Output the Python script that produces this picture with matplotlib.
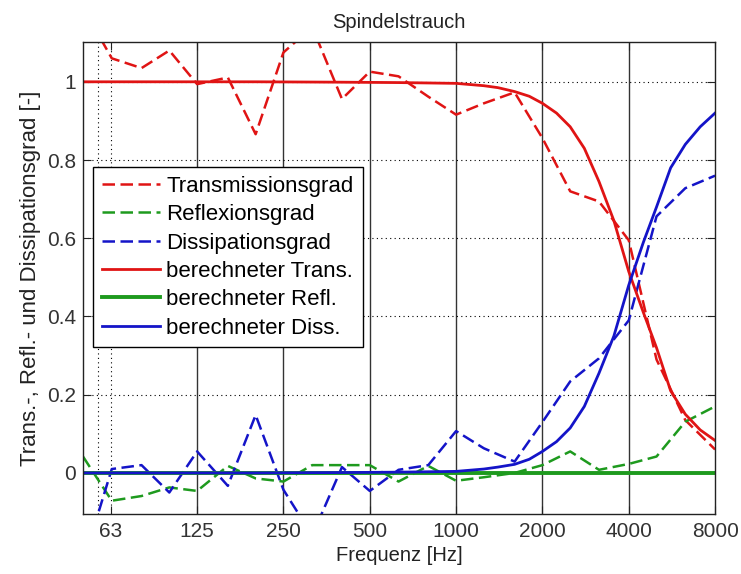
import matplotlib
matplotlib.use("Agg")
import matplotlib.pyplot as plt

# measured values at third-octave band centres
freq_meas = [50, 63, 80, 100, 125, 160, 200, 250, 315, 400, 500, 630, 800,
             1000, 1250, 1600, 2000, 2500, 3150, 4000, 5000, 6300, 8000]
trans_meas = [1.19, 1.06, 1.035, 1.08, 0.994, 1.011, 0.866, 1.075, 1.14, 0.956,
              1.026, 1.014, 0.962, 0.916, 0.945, 0.973, 0.856, 0.72, 0.694,
              0.595, 0.29, 0.135, 0.06]
refl_meas = [0.042, -0.071, -0.059, -0.037, -0.046, 0.018, -0.014, -0.022,
             0.02, 0.02, 0.02, -0.022, 0.018, -0.02, -0.011, 0.0, 0.02, 0.055,
             0.008, 0.023, 0.042, 0.131, 0.17]
diss_meas = [-0.23, 0.01, 0.02, -0.05, 0.055, -0.033, 0.148, -0.043, -0.16,
             0.015, -0.046, 0.008, 0.02, 0.107, 0.063, 0.029, 0.13, 0.234,
             0.293, 0.39, 0.656, 0.728, 0.76]

# computed model curves
freq_calc = [50, 100, 200, 400, 630, 800, 1000, 1250, 1400, 1600, 1800, 2000,
             2240, 2500, 2800, 3150, 3550, 4000, 4500, 5000, 5600, 6300, 7100,
             8000]
trans_calc = [1.0, 1.0, 1.0, 0.999, 0.998, 0.997, 0.996, 0.99, 0.985, 0.975,
              0.963, 0.945, 0.92, 0.885, 0.83, 0.745, 0.645, 0.515, 0.41,
              0.32, 0.21, 0.15, 0.11, 0.083]
refl_calc = [0.0] * len(freq_calc)
diss_calc = [0.0, 0.0, 0.0, 0.001, 0.002, 0.003, 0.004, 0.01, 0.015, 0.022,
             0.035, 0.055, 0.08, 0.115, 0.17, 0.255, 0.35, 0.48, 0.59, 0.68,
             0.78, 0.84, 0.885, 0.92]

tick_freqs = [62.5, 125, 250, 500, 1000, 2000, 4000, 8000]
tick_labels = ['63', '125', '250', '500', '1000', '2000', '4000', '8000']
octave_lines = [125, 250, 500, 1000, 2000, 4000]
dotted_lines = [56.5, 62.5]

plt.rcParams['font.family'] = ['Liberation Sans', 'DejaVu Sans']
plt.rcParams['font.size'] = 15

red = '#e01414'
green = '#1e9a1e'
blue = '#1414c8'

fig = plt.figure(figsize=(7.41, 5.74), dpi=100)
ax = fig.add_axes([0.112, 0.1045, 0.853, 0.8225])

# octave band lines and grid
for f in octave_lines:
    ax.axvline(f, color='#333333', lw=1.0, zorder=1)
for f in dotted_lines:
    ax.axvline(f, color='black', lw=0.8, ls=(0, (1, 3)), zorder=1)
for yv in [0.2, 0.4, 0.6, 0.8, 1.0]:
    ax.axhline(yv, color='black', lw=0.8, ls=(0, (1, 3)), zorder=1)

dash = (0, (5, 2.2))
ax.plot(freq_meas, trans_meas, color=red, lw=1.8, ls=dash, label='Transmissionsgrad')
ax.plot(freq_meas, refl_meas, color=green, lw=1.8, ls=dash, label='Reflexionsgrad')
ax.plot(freq_meas, diss_meas, color=blue, lw=1.8, ls=dash, label='Dissipationsgrad')
ax.plot(freq_calc, trans_calc, color=red, lw=2.0, label='berechneter Trans.')
ax.plot(freq_calc, refl_calc, color=green, lw=2.8, label='berechneter Refl.')
ax.plot(freq_calc, diss_calc, color=blue, lw=2.0, label='berechneter Diss.')

ax.set_xscale('log')
ax.set_xlim(50, 8000)
ax.set_ylim(-0.105, 1.102)
ax.set_xticks(tick_freqs)
ax.set_xticklabels(tick_labels)
ax.minorticks_off()
ax.set_yticks([0, 0.2, 0.4, 0.6, 0.8, 1.0])
ax.set_yticklabels(['0', '0.2', '0.4', '0.6', '0.8', '1'])
ax.tick_params(direction='in', length=6, width=0.8, top=True, right=True,
               colors='#222222', labelcolor='#333333')
ax.tick_params(axis='x', pad=6)
ax.tick_params(axis='y', pad=5)
for sp in ax.spines.values():
    sp.set_linewidth(1.0)
    sp.set_color('#222222')

ax.set_title('Spindelstrauch', pad=10, color='#222222', fontsize=14.5)
ax.set_xlabel('Frequenz [Hz]', color='#222222', labelpad=3, fontsize=14.5)
ax.set_ylabel('Trans.-, Refl.- und Dissipationsgrad [-]', color='#222222',
              labelpad=4, fontsize=16)

leg = ax.legend(loc='upper left', bbox_to_anchor=(0.016, 0.735), borderaxespad=0,
                fancybox=False, edgecolor='black', framealpha=1, fontsize=16,
                handlelength=2.6, handletextpad=0.3, labelspacing=0.33,
                borderpad=0.4)
leg.get_frame().set_linewidth(1.0)

fig.savefig('out.png', dpi=100)
